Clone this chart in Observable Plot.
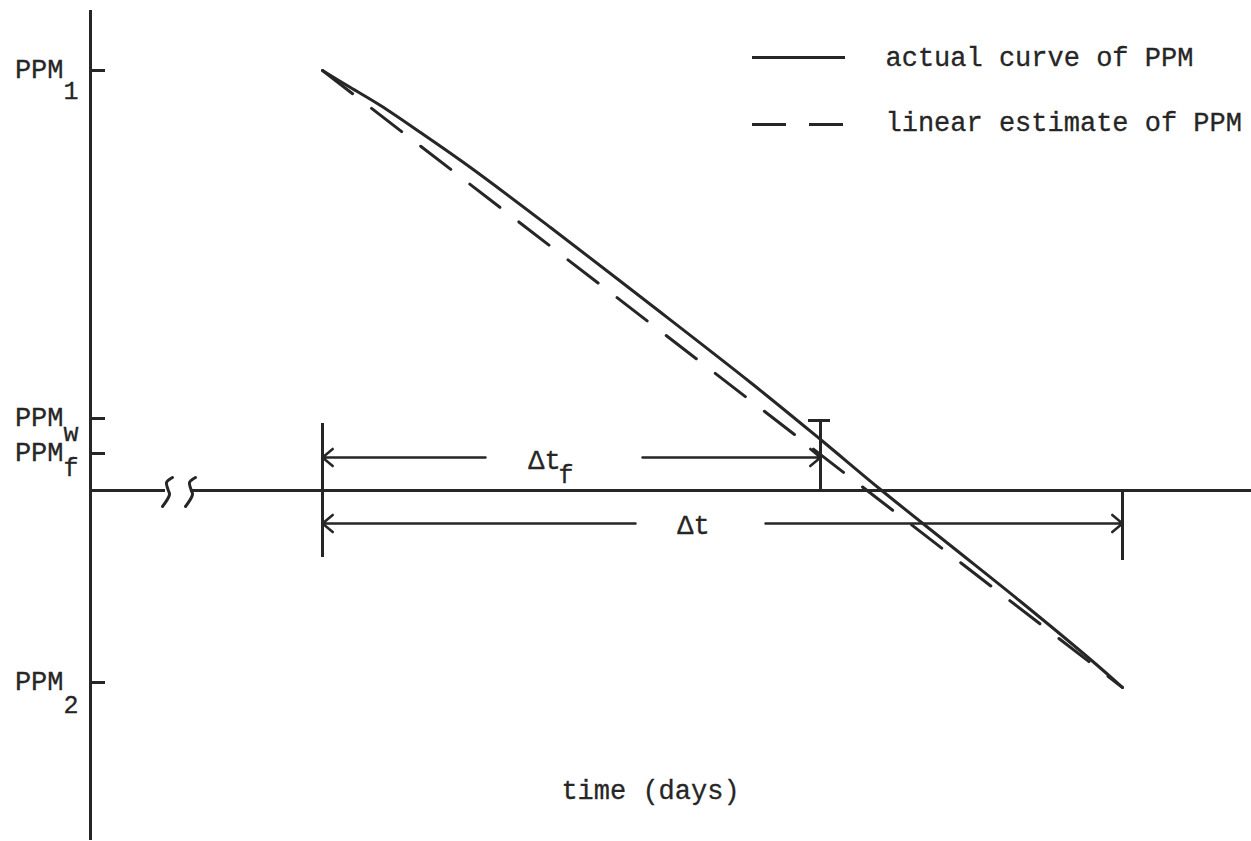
<!DOCTYPE html>
<html>
<head>
<meta charset="utf-8">
<script src="https://cdn.jsdelivr.net/npm/d3@7"></script>
<script src="https://cdn.jsdelivr.net/npm/@observablehq/plot@0.6"></script>
<style>
  html, body { margin: 0; padding: 0; background: #fff; }
  #chart svg { display: block; }
</style>
</head>
<body>
<div id="chart"></div>
<script>
// ---- data (chart units: time in days, concentration in PPM units) ----
const actualT   = [23.2, 26.0, 29.0, 33.0, 38.0, 46.0, 56.0, 66.0, 73.0, 79.0, 86.0, 93.0, 100.0, 103.2];
const actualPPM = [42.0, 40.3, 38.5, 35.8, 32.3, 26.3, 18.6, 10.8, 5.1, 0.1, -5.5, -11.1, -16.9, -19.7];
const linearT   = [23.2, 103.2];
const linearPPM = [42.0, -19.7];

const tickNames = ["PPM", "PPM", "PPM", "PPM"];
const tickSubs  = ["1", "w", "f", "2"];
const tickPPM   = [42.0, 7.2, 3.7, -19.2];

const intervalNames = ["Δt", "Δt"];
const intervalSubs  = ["f", ""];
const intervalStart = [23.2, 23.2];
const intervalEnd   = [73.0, 103.2];

const legendLabels = ["actual curve of PPM", "linear estimate of PPM"];
const xAxisLabel = "time (days)";

// ---- layout (styling, in chart units) ----
const X_DOMAIN = [-9, 116.1];
const Y_DOMAIN = [-35.1, 49];
const AXIS_T = 0, BASE_PPM = 0;
const AXIS_TOP = 48, AXIS_BOTTOM = -35;
const BREAK_AT = [7.5, 9.8];
const TICK_LEN = 1.5;
const intervalLevel = [3.3, -3.3];
const intervalGap = [[39.5, 55.2], [54.5, 67.5]];
const intervalLabelX = [45.4, 60.3];
const intervalLabelY = [2.2, -4.3];
const startBar = [-6.7, 6.7];
const endBarLen = [7.0, -7.0];
const subDy = [21, 15, 15, 23];
const legendX1 = 66.2, legendX2 = 75.5, legendTextX = 79.5;
const legendLineY = [43.3, 36.6];
const legendTextY = [42.5, 36.0];
const legendDash = [null, "34,23"];
const labelPos = {x: 56.0, y: -30.8};
// break glyph shape (relative, in chart units)
const breakShape = [[0.7, 1.3], [0.1, 0.8], [0.25, 0.1], [0.4, -0.4], [-0.3, -1.6]];

const INK = "#262626";
const FONT = "Liberation Mono, Courier New, monospace";
const FS = 27;

// ---- build tables ----
const actual = actualT.map((t, i) => ({t, v: actualPPM[i]}));
const linear = linearT.map((t, i) => ({t, v: linearPPM[i]}));
const ticks = tickPPM.map((v, i) => ({v, name: tickNames[i], sub: tickSubs[i], dy: subDy[i]}));
const breaks = BREAK_AT.flatMap((c, k) => breakShape.map(([dx, dv]) => ({k, t: c + dx, v: BASE_PPM + dv})));

const arrows = intervalStart.flatMap((s, i) => [
  {x1: intervalGap[i][0], x2: s, y: intervalLevel[i]},
  {x1: intervalGap[i][1], x2: intervalEnd[i], y: intervalLevel[i]}
]);
const bars = [
  {x: intervalStart[0], y1: startBar[0], y2: startBar[1]},
  {x: intervalEnd[0], y1: BASE_PPM, y2: BASE_PPM + endBarLen[0]},
  {x: intervalEnd[1], y1: BASE_PPM, y2: BASE_PPM + endBarLen[1]}
];
const caps = [{y: BASE_PPM + endBarLen[0], x1: intervalEnd[0] - 1.2, x2: intervalEnd[0] + 1.0}];
const intervalLabels = intervalNames.map((n, i) => ({n, sub: intervalSubs[i], x: intervalLabelX[i], y: intervalLabelY[i]}));
const legend = legendLabels.map((label, i) => ({label, y: legendLineY[i], ty: legendTextY[i], dash: legendDash[i]}));

const textStyle = {fontFamily: FONT, fontSize: FS, fill: INK, stroke: INK, strokeWidth: 0.3, lineAnchor: "bottom"};

const chart = Plot.plot({
  width: 1251,
  height: 841,
  margin: 0,
  x: {domain: X_DOMAIN, axis: null},
  y: {domain: Y_DOMAIN, axis: null},
  style: {background: "#fff"},
  marks: [
    // axes
    Plot.ruleX([AXIS_T], {y1: AXIS_BOTTOM, y2: AXIS_TOP, stroke: INK, strokeWidth: 3}),
    Plot.ruleY([BASE_PPM], {x1: AXIS_T, x2: BREAK_AT[0], stroke: INK, strokeWidth: 3}),
    Plot.ruleY([BASE_PPM], {x1: BREAK_AT[1] + 0.2, x2: X_DOMAIN[1], stroke: INK, strokeWidth: 3}),
    Plot.line(breaks, {x: "t", y: "v", z: "k", curve: "catmull-rom", stroke: INK, strokeWidth: 3}),
    // y ticks and labels
    Plot.ruleY(ticks, {y: "v", x1: AXIS_T, x2: AXIS_T + TICK_LEN, stroke: INK, strokeWidth: 3}),
    Plot.text(ticks, {x: AXIS_T - 2.7, y: "v", text: "name", textAnchor: "end", dy: 7, ...textStyle}),
    ...ticks.map(d => Plot.text([d], {x: AXIS_T - 2.7, y: "v", text: "sub", textAnchor: "start", dy: 7 + d.dy, ...textStyle, fontSize: 25})),
    // curves
    Plot.line(linear, {x: "t", y: "v", stroke: INK, strokeWidth: 3, strokeDasharray: "38,24"}),
    Plot.line(actual, {x: "t", y: "v", curve: "catmull-rom", stroke: INK, strokeWidth: 3}),
    // interval markers
    Plot.ruleX(bars, {x: "x", y1: "y1", y2: "y2", stroke: INK, strokeWidth: 3}),
    Plot.ruleY(caps, {y: "y", x1: "x1", x2: "x2", stroke: INK, strokeWidth: 3}),
    Plot.arrow(arrows, {x1: "x1", x2: "x2", y1: "y", y2: "y", stroke: INK, strokeWidth: 2.5, headAngle: 80, headLength: 8}),
    Plot.text(intervalLabels, {x: "x", y: "y", text: "n", textAnchor: "middle", ...textStyle}),
    Plot.text(intervalLabels, {x: "x", y: "y", text: "sub", textAnchor: "start", dx: 14, dy: 14, ...textStyle, fontSize: 25}),
    // legend
    ...legend.map(d => Plot.ruleY([d], {y: "y", x1: legendX1, x2: legendX2, stroke: INK, strokeWidth: 3, strokeDasharray: d.dash ?? undefined})),
    Plot.text(legend, {x: legendTextX, y: "ty", text: "label", textAnchor: "start", ...textStyle}),
    // x label
    Plot.text([xAxisLabel], {x: labelPos.x, y: labelPos.y, text: d => d, textAnchor: "middle", ...textStyle})
  ]
});

document.getElementById("chart").append(chart);
</script>
</body>
</html>
